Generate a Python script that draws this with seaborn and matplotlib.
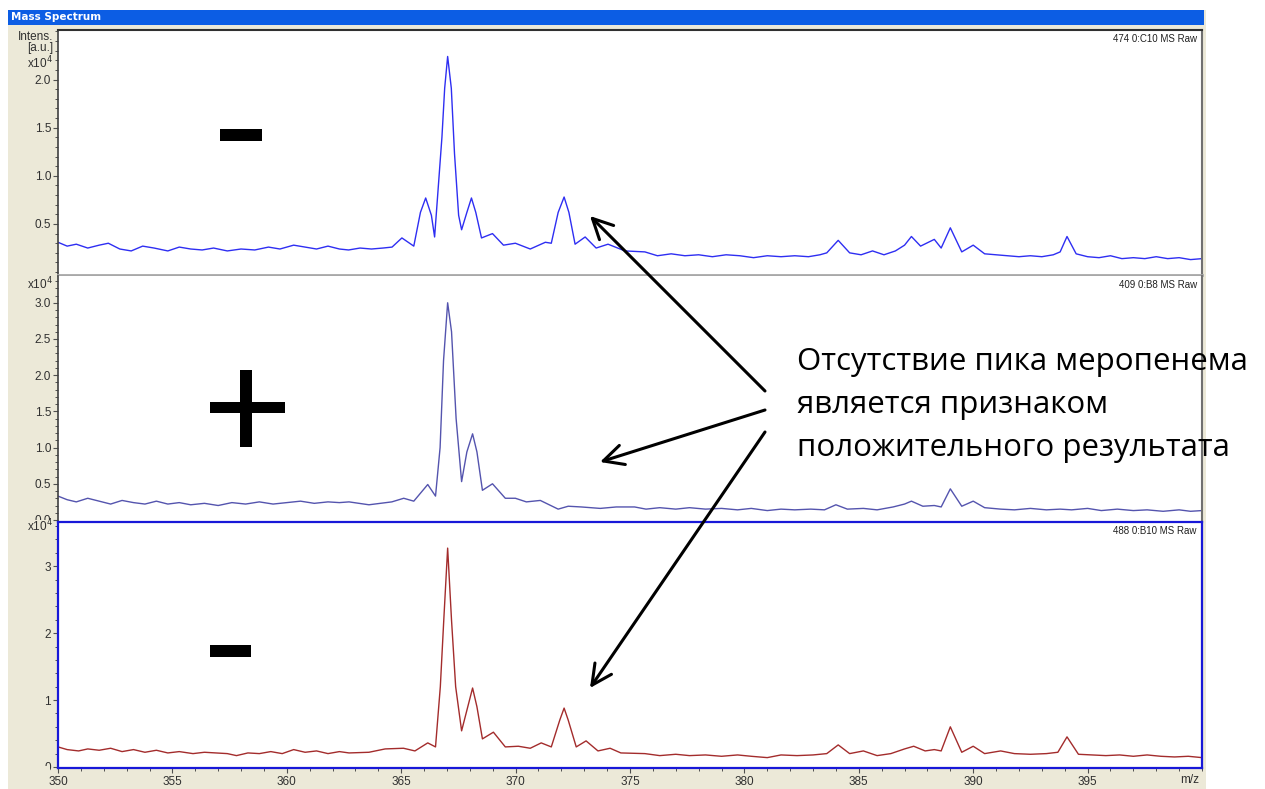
import matplotlib
matplotlib.use("Agg")
import matplotlib.pyplot as plt
import seaborn as sns
from matplotlib.patches import Rectangle, FancyArrowPatch
from matplotlib.ticker import MultipleLocator, FixedLocator, FormatStrFormatter

# ---------------------------------------------------------------- spectra
# m/z positions and intensities (x10^4 a.u.) of the three spectra
MZ_TOP = [350.0, 350.4, 350.8, 351.3, 351.8, 352.2, 352.7, 353.2, 353.7, 354.2,
          354.8, 355.3, 355.8, 356.3, 356.8, 357.4, 358.0, 358.6, 359.2, 359.7,
          360.3, 360.8, 361.3, 361.8, 362.3, 362.7, 363.2, 363.7, 364.2, 364.6,
          365.03, 365.55, 365.84, 366.07, 366.32, 366.46, 366.78, 366.90, 367.03, 367.19,
          367.33, 367.51, 367.64, 367.87, 368.07, 368.26, 368.51, 368.99, 369.47, 369.99,
          370.64, 371.3, 371.56, 371.86, 372.12, 372.33, 372.6, 373.04, 373.52, 374.04,
          374.78, 375.65, 376.2, 376.8, 377.4, 378.0, 378.6, 379.2, 379.8, 380.4,
          381.0, 381.6, 382.2, 382.8, 383.3, 383.6, 384.1, 384.6, 385.1, 385.6,
          386.1, 386.6, 387.0, 387.3, 387.7, 388.3, 388.6, 389.0, 389.5, 390.0,
          390.5, 391.0, 391.5, 392.0, 392.5, 393.0, 393.5, 393.8, 394.1, 394.5,
          395.0, 395.5, 396.0, 396.5, 397.0, 397.5, 398.0, 398.5, 399.0, 399.5,
          400.0]
INT_TOP = [0.31, 0.27, 0.29, 0.25, 0.28, 0.30, 0.24, 0.22, 0.27, 0.25,
           0.22, 0.26, 0.24, 0.23, 0.25, 0.22, 0.24, 0.23, 0.26, 0.24,
           0.28, 0.26, 0.24, 0.27, 0.24, 0.23, 0.25, 0.24, 0.25, 0.26,
           0.355, 0.27, 0.62, 0.77, 0.59, 0.365, 1.40, 1.91, 2.24, 1.91,
           1.23, 0.59, 0.44, 0.62, 0.77, 0.62, 0.355, 0.40, 0.28, 0.30,
           0.24, 0.31, 0.30, 0.62, 0.78, 0.62, 0.29, 0.365, 0.25, 0.29,
           0.22, 0.21, 0.17, 0.19, 0.17, 0.18, 0.16, 0.18, 0.17, 0.15,
           0.17, 0.16, 0.17, 0.16, 0.18, 0.20, 0.33, 0.20, 0.18, 0.22,
           0.18, 0.22, 0.28, 0.37, 0.27, 0.34, 0.25, 0.46, 0.21, 0.28,
           0.19, 0.18, 0.17, 0.16, 0.17, 0.16, 0.18, 0.21, 0.37, 0.19,
           0.16, 0.15, 0.17, 0.14, 0.15, 0.14, 0.16, 0.14, 0.15, 0.13,
           0.14]

MZ_MID = [350.0, 350.4, 350.8, 351.3, 351.8, 352.3, 352.8, 353.3, 353.8, 354.3,
          354.8, 355.3, 355.8, 356.4, 357.0, 357.6, 358.2, 358.8, 359.4, 360.0,
          360.6, 361.2, 361.8, 362.3, 362.72, 363.59, 364.59, 365.11, 365.55, 366.16,
          366.5, 366.7, 366.85, 367.03, 367.2, 367.4, 367.64, 367.87, 368.12, 368.31,
          368.55, 368.99, 369.55, 369.99, 370.47, 371.08, 371.86, 372.3, 372.87, 373.7,
          374.4, 375.2, 375.7, 376.3, 377.0, 377.6, 378.3, 379.0, 379.7, 380.3,
          381.0, 381.6, 382.2, 382.9, 383.5, 384.0, 384.5, 385.2, 385.8, 386.5,
          387.0, 387.3, 387.8, 388.3, 388.6, 389.0, 389.5, 390.0, 390.5, 391.2,
          391.8, 392.5, 393.2, 393.8, 394.3, 395.0, 395.6, 396.3, 397.0, 397.6,
          398.3, 399.0, 399.5, 400.0]
INT_MID = [0.33, 0.28, 0.25, 0.30, 0.26, 0.22, 0.27, 0.24, 0.22, 0.26,
           0.22, 0.24, 0.21, 0.23, 0.20, 0.24, 0.22, 0.25, 0.22, 0.24,
           0.26, 0.23, 0.25, 0.24, 0.25, 0.21, 0.25, 0.30, 0.26, 0.49,
           0.33, 1.00, 2.20, 3.00, 2.60, 1.40, 0.53, 0.94, 1.19, 0.94,
           0.41, 0.50, 0.30, 0.30, 0.25, 0.27, 0.15, 0.19, 0.18, 0.16,
           0.18, 0.18, 0.15, 0.17, 0.15, 0.17, 0.15, 0.16, 0.14, 0.16,
           0.13, 0.15, 0.14, 0.15, 0.14, 0.21, 0.15, 0.16, 0.14, 0.18,
           0.22, 0.26, 0.19, 0.20, 0.18, 0.43, 0.19, 0.26, 0.17, 0.15,
           0.14, 0.16, 0.14, 0.15, 0.14, 0.16, 0.13, 0.15, 0.13, 0.14,
           0.12, 0.14, 0.12, 0.13]

MZ_BOT = [350.0, 350.4, 350.9, 351.3, 351.8, 352.3, 352.8, 353.3, 353.8, 354.3,
          354.8, 355.3, 355.9, 356.4, 356.9, 357.4, 357.8, 358.3, 358.8, 359.3,
          359.8, 360.3, 360.8, 361.3, 361.8, 362.3, 362.72, 363.59, 364.3, 365.1,
          365.6, 366.16, 366.5, 366.71, 366.86, 367.03, 367.2, 367.38, 367.64, 367.91,
          368.12, 368.31, 368.55, 369.03, 369.55, 370.12, 370.64, 371.12, 371.56, 371.93,
          372.12, 372.3, 372.65, 373.08, 373.6, 374.13, 374.6, 375.65, 376.3, 377.0,
          377.6, 378.3, 379.0, 379.7, 380.3, 381.0, 381.6, 382.3, 383.0, 383.6,
          384.1, 384.6, 385.2, 385.8, 386.4, 387.0, 387.4, 387.9, 388.3, 388.6,
          389.0, 389.5, 390.0, 390.5, 391.2, 391.8, 392.5, 393.2, 393.7, 394.1,
          394.6, 395.2, 395.8, 396.4, 397.0, 397.6, 398.2, 398.8, 399.4, 400.0]
INT_BOT = [0.30, 0.26, 0.24, 0.27, 0.25, 0.28, 0.23, 0.26, 0.22, 0.25,
           0.21, 0.23, 0.20, 0.22, 0.21, 0.20, 0.17, 0.21, 0.20, 0.23,
           0.20, 0.26, 0.22, 0.24, 0.20, 0.23, 0.21, 0.22, 0.27, 0.28,
           0.24, 0.36, 0.30, 1.20, 2.19, 3.27, 2.19, 1.20, 0.54, 0.90,
           1.18, 0.90, 0.42, 0.52, 0.30, 0.31, 0.28, 0.36, 0.30, 0.70,
           0.88, 0.70, 0.30, 0.39, 0.24, 0.28, 0.21, 0.20, 0.17, 0.19,
           0.17, 0.18, 0.16, 0.18, 0.16, 0.14, 0.18, 0.17, 0.18, 0.20,
           0.33, 0.20, 0.24, 0.17, 0.20, 0.27, 0.31, 0.24, 0.26, 0.24,
           0.60, 0.22, 0.31, 0.20, 0.24, 0.20, 0.19, 0.20, 0.22, 0.45,
           0.19, 0.18, 0.17, 0.18, 0.16, 0.18, 0.16, 0.15, 0.16, 0.14]

SPECTRUM_IDS = ["474 0:C10 MS Raw", "409 0:B8 MS Raw", "488 0:B10 MS Raw"]
Y_TICKS_TOP = [0.5, 1.0, 1.5, 2.0]
Y_TICKS_MID = [0.0, 0.5, 1.0, 1.5, 2.0, 2.5, 3.0]
Y_TICKS_BOT = [0, 1, 2, 3]
X_TICKS = [350, 355, 360, 365, 370, 375, 380, 385, 390, 395]
NOTE_LINES = ["Отсутствие пика меропенема",
              "является признаком",
              "положительного результата"]

# ---------------------------------------------------------------- figure
sns.set_theme(style="white")
plt.rcParams["font.family"] = ["Liberation Sans", "DejaVu Sans"]

W, H = 1265, 789
fig = plt.figure(figsize=(W / 100, H / 100), dpi=100)
fig.patch.set_facecolor("white")
BEIGE = "#ECE9D8"


def fx(px):
    return px / W


def fy(py):
    return 1 - py / H


def px_rect(x0, y0, x1, y1, **kw):
    """Rectangle given in pixel coordinates measured from the top-left."""
    r = Rectangle((fx(x0), fy(y1)), (x1 - x0) / W, (y1 - y0) / H,
                  transform=fig.transFigure, **kw)
    fig.add_artist(r)
    return r


# application window: beige client area and blue caption bar
px_rect(8, 10, 1206, 789, facecolor=BEIGE, edgecolor="none", zorder=-2)
px_rect(8, 10, 1204, 25, facecolor="#0C5DE4", edgecolor="none", zorder=-1)
fig.text(fx(11), fy(17.5), "Mass Spectrum", color="white", fontweight="bold",
         fontsize=7.5, va="center", ha="left", family=["DejaVu Sans"])

AX_L, AX_R = 58, 1202
panels = [
    dict(top=30, bot=275, ylim=(-0.03, 2.515), ticks=Y_TICKS_TOP, minor=0.1,
         fmt="%.1f", mz=MZ_TOP, inten=INT_TOP, color="#2E2EF2"),
    dict(top=276, bot=521, ylim=(-0.014, 3.37), ticks=Y_TICKS_MID, minor=0.1,
         fmt="%.1f", mz=MZ_MID, inten=INT_MID, color="#5454AE"),
    dict(top=522, bot=768, ylim=(-0.015, 3.66), ticks=Y_TICKS_BOT, minor=0.2,
         fmt="%d", mz=MZ_BOT, inten=INT_BOT, color="#A32C2C"),
]

axes = []
for i, p in enumerate(panels):
    ax = fig.add_axes([fx(AX_L), fy(p["bot"]), (AX_R - AX_L) / W,
                       (p["bot"] - p["top"]) / H])
    ax.set_facecolor("white")
    sns.lineplot(x=p["mz"], y=p["inten"], ax=ax, color=p["color"],
                 linewidth=1.0, estimator=None)
    ax.set_xlim(350, 400)
    ax.set_ylim(*p["ylim"])
    ax.yaxis.set_major_locator(FixedLocator(p["ticks"]))
    ax.yaxis.set_minor_locator(MultipleLocator(p["minor"]))
    ax.yaxis.set_major_formatter(FormatStrFormatter(p["fmt"]))
    ax.tick_params(axis="y", which="major", direction="out", length=3.5,
                   width=0.8, color="#505050", labelsize=8.5,
                   labelcolor="#303030", pad=1.5, left=True)
    ax.tick_params(axis="y", which="minor", direction="out", length=2,
                   width=0.7, color="#505050", left=True)
    ax.set_xlabel("")
    ax.set_ylabel("")
    ax.text(0.9955, 0.985, SPECTRUM_IDS[i], transform=ax.transAxes,
            ha="right", va="top", fontsize=7, color="#202020")
    axes.append(ax)

# frames of the three panes
top_ax, mid_ax, bot_ax = axes
for ax in (top_ax, mid_ax):
    ax.set_xticks(X_TICKS)
    ax.tick_params(axis="x", which="both", bottom=False, labelbottom=False)
    ax.spines["left"].set_color("#404040")
    ax.spines["right"].set_color("#707070")
    ax.spines["left"].set_linewidth(1.2)
    ax.spines["right"].set_linewidth(1.5)
top_ax.spines["top"].set_color("#303030")
top_ax.spines["top"].set_linewidth(1.5)
top_ax.spines["bottom"].set_color("#A8A8A8")
top_ax.spines["bottom"].set_linewidth(2.0)
mid_ax.spines["top"].set_visible(False)
mid_ax.spines["bottom"].set_visible(False)
for s in bot_ax.spines.values():
    s.set_color("#1818D8")
    s.set_linewidth(1.6)

bot_ax.set_xticks(X_TICKS)
bot_ax.xaxis.set_minor_locator(MultipleLocator(1))
bot_ax.tick_params(axis="x", which="major", direction="out", length=3.5,
                   width=0.8, color="#505050", labelsize=8.5,
                   labelcolor="#303030", pad=2, bottom=True)
bot_ax.tick_params(axis="x", which="minor", direction="out", length=2,
                   width=0.7, color="#505050", bottom=True)

# zero labels are cut off by the pane below them
px_rect(8, 520, 53, 532, facecolor=BEIGE, edgecolor="none", zorder=1)
px_rect(8, 765.5, 50, 773.5, facecolor=BEIGE, edgecolor="none", zorder=1)

# axis captions
lab_kw = dict(ha="right", va="center", fontsize=8.5, color="#303030", zorder=3)
fig.text(fx(53), fy(37), "Intens.", **lab_kw)
fig.text(fx(53), fy(48), "[a.u.]", **lab_kw)
for yy in (63, 284, 526):
    fig.text(fx(53), fy(yy), r"x10$^4$", **lab_kw)
fig.text(fx(1199), fy(780), "m/z", ha="right", va="center", fontsize=8.5,
         color="#303030")

# result marks: minus / plus / minus
px_rect(220, 129, 262, 141, facecolor="black", edgecolor="none", zorder=5)
px_rect(210, 402, 285, 413, facecolor="black", edgecolor="none", zorder=5)
px_rect(240, 370, 252, 447, facecolor="black", edgecolor="none", zorder=5)
px_rect(210, 645, 251, 657, facecolor="black", edgecolor="none", zorder=5)

# explanatory note with arrows
note_font = ["Open Sans", "DejaVu Sans"]
for line, base in zip(NOTE_LINES, (370, 413, 456)):
    fig.text(fx(797), fy(base), line, ha="left", va="baseline", fontsize=22.5,
             family=note_font, color="black")

for (x0, y0), (x1, y1) in [((765, 391), (590, 216)),
                           ((765, 410), (600, 462)),
                           ((765, 432), (590, 688))]:
    arr = FancyArrowPatch((fx(x0), fy(y0)), (fx(x1), fy(y1)),
                          transform=fig.transFigure,
                          arrowstyle="->,head_length=0.8,head_width=0.4",
                          mutation_scale=18, lw=2.2, color="black",
                          shrinkA=0, shrinkB=0, zorder=6)
    fig.add_artist(arr)

fig.savefig("out.png", dpi=100, facecolor="white")
